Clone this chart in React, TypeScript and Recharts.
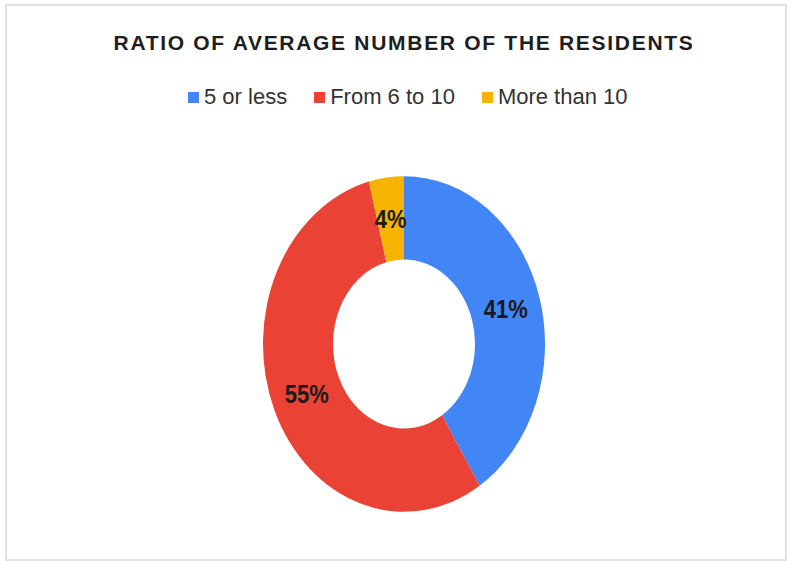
import React from "react";
import { PieChart, Pie, Cell, Legend } from "recharts";

const categories = ["5 or less", "From 6 to 10", "More than 10"];
const shares = [41, 55, 4];
const COLORS = ["#4285F4", "#EA4335", "#F4B400"];

const data = categories.map((name, i) => ({ name, value: shares[i] }));

const CX = 404;
const CY = 344;
const STRETCH = 1.19; // the ring is taller than it is wide
const RADIAN = Math.PI / 180;

// labels sit in the middle of the ring
const renderLabel = (props: any) => {
  const { cx, cy, midAngle, innerRadius, outerRadius, percent } = props;
  const r = (innerRadius + outerRadius) / 2;
  const x = cx + r * Math.cos(-midAngle * RADIAN);
  const y = cy + r * STRETCH * Math.sin(-midAngle * RADIAN);
  return (
    <text
      x={0}
      y={0}
      transform={`translate(${x},${y}) scale(1,${STRETCH})`}
      textAnchor="middle"
      dominantBaseline="central"
      fill="#1a1a1a"
      fontSize={22}
      fontWeight="bold"
      fontFamily="'Liberation Sans', Arial, sans-serif"
    >
      {`${Math.round(percent * 100)}%`}
    </text>
  );
};

const renderLegend = (props: any) => {
  const { payload = [] } = props;
  return (
    <div style={{ display: "flex", alignItems: "center" }}>
      {payload.map((entry: any, i: number) => (
        <div
          key={entry.value}
          style={{ display: "flex", alignItems: "center", marginRight: 27 }}
        >
          <span
            style={{
              width: 11,
              height: 11,
              background: COLORS[i],
              marginRight: 5,
              display: "inline-block",
            }}
          />
          <span style={{ fontSize: 22, lineHeight: "22px", color: "#333" }}>
            {entry.value}
          </span>
        </div>
      ))}
    </div>
  );
};

export default function App() {
  return (
    <div
      id="donut"
      style={{
        position: "absolute",
        left: 0,
        top: 0,
        width: 792,
        height: 566,
        background: "#fff",
        fontFamily: "'Liberation Sans', Arial, sans-serif",
      }}
    >
      <style>{`#donut .recharts-pie-sector{transform:scale(1,${STRETCH});transform-origin:${CX}px ${CY}px;}`}</style>
      <div
        style={{
          position: "absolute",
          left: 5,
          top: 4,
          width: 782,
          height: 557,
          border: "2px solid #e0e0e0",
          boxSizing: "border-box",
        }}
      />
      <div
        style={{
          position: "absolute",
          left: 0,
          top: 32,
          width: 808,
          textAlign: "center",
          fontSize: 21,
          lineHeight: "21px",
          fontWeight: "bold",
          letterSpacing: 1.7,
          color: "#1e1e1e",
        }}
      >
        RATIO OF AVERAGE NUMBER OF THE RESIDENTS
      </div>
      <PieChart
        width={792}
        height={566}
        margin={{ top: 0, right: 0, bottom: 0, left: 0 }}
      >
        <Legend
          verticalAlign="bottom"
          content={renderLegend}
          wrapperStyle={{ top: 86, left: 188, bottom: "auto", width: "auto" }}
        />
        <Pie
          data={data}
          dataKey="value"
          nameKey="name"
          cx={CX}
          cy={CY}
          innerRadius={71}
          outerRadius={141}
          startAngle={90}
          endAngle={-270}
          stroke="none"
          label={renderLabel}
          labelLine={false}
          isAnimationActive={false}
        >
          {data.map((d, i) => (
            <Cell key={d.name} fill={COLORS[i]} />
          ))}
        </Pie>
      </PieChart>
    </div>
  );
}
